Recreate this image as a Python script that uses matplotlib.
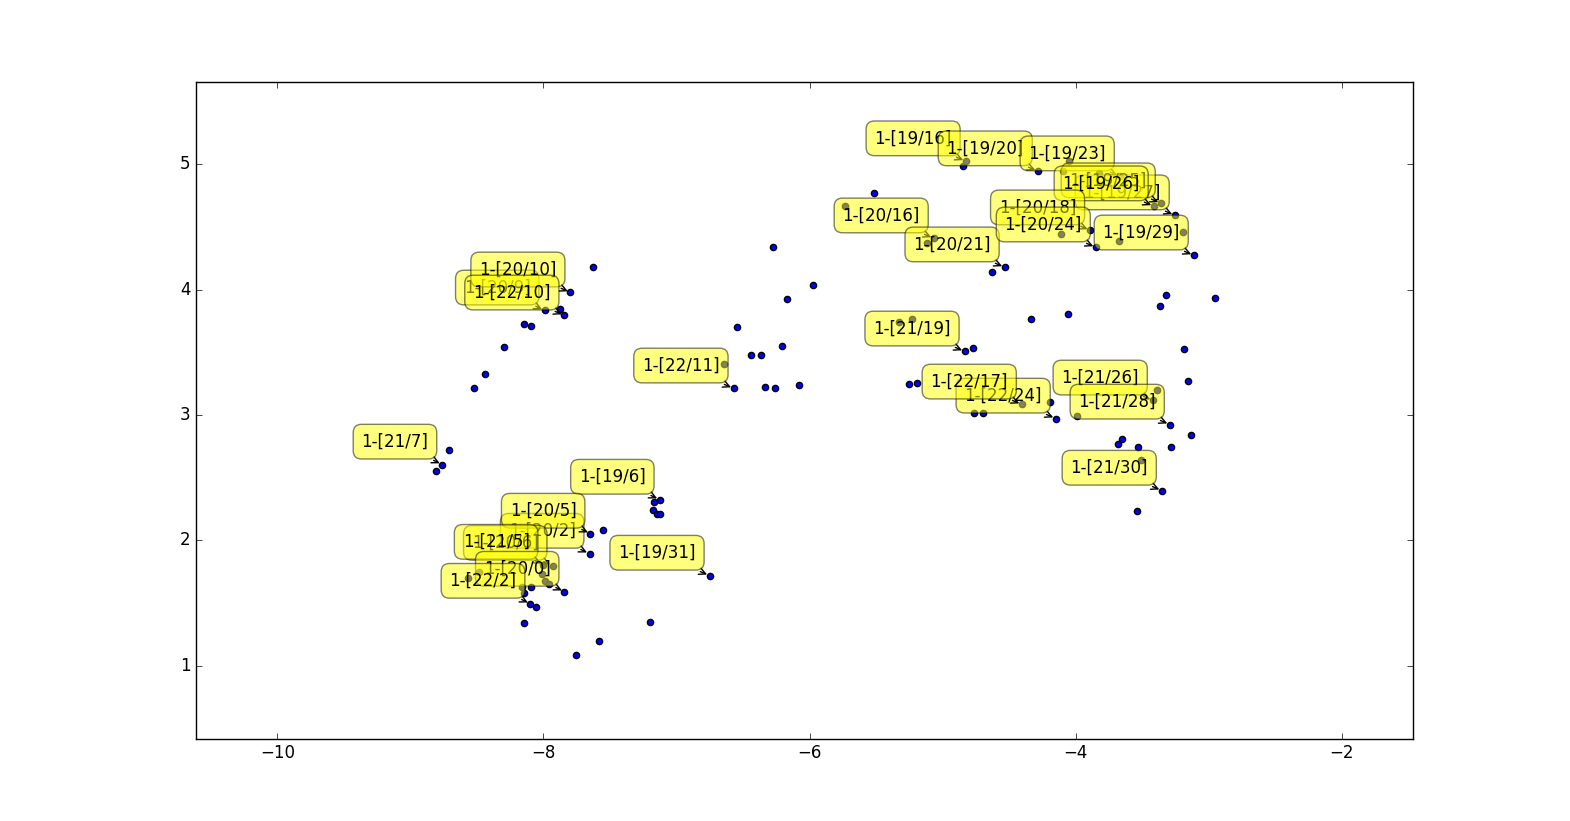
import matplotlib
matplotlib.use('Agg')
import matplotlib.pyplot as plt

plt.style.use('classic')

# points that have no label
point_x = [-7.624, -7.872, -8.143, -8.090, -8.293, -8.436, -8.519, -8.707, -8.805,
           -7.173, -7.180, -7.150, -7.128, -7.556, -8.090, -8.143, -8.053, -8.143,
           -7.203, -7.586, -7.759, -8.008, -7.985, -7.962, -8.481, -8.564,
           -8.158, -6.647, -6.549, -6.444, -6.368, -6.338, -6.263, -6.211, -6.083,
           -6.173, -5.977, -6.278, -5.519, -4.850, -4.053, -4.098, -3.827, -4.632,
           -5.737, -5.120, -4.113, -3.677, -3.195, -3.323, -2.955, -3.368, -4.338,
           -4.060, -3.188, -3.158, -4.774, -5.331, -5.233, -5.256, -5.195, -4.196,
           -4.767, -4.699, -3.391, -3.992, -3.135, -3.286, -3.534, -3.654, -3.684,
           -3.511, -3.541]
point_y = [4.178, 3.842, 3.723, 3.707, 3.539, 3.331, 3.212, 2.717, 2.557,
           2.309, 2.246, 2.214, 2.214, 2.086, 1.631, 1.583, 1.471, 1.343,
           1.351, 1.200, 1.088, 1.735, 1.679, 1.655, 1.750, 1.703,
           1.631, 3.403, 3.699, 3.475, 3.475, 3.220, 3.212, 3.547, 3.236,
           3.922, 4.034, 4.337, 4.768, 4.984, 5.024, 4.944, 4.928, 4.138,
           4.665, 4.369, 4.441, 4.385, 4.457, 3.954, 3.930, 3.866, 3.762,
           3.802, 3.523, 3.275, 3.531, 3.739, 3.763, 3.244, 3.259, 3.100,
           3.020, 3.020, 3.196, 2.996, 2.844, 2.741, 2.741, 2.812, 2.772,
           2.645, 2.238]

# labelled points, in drawing order
label_names = ['1-[19/6]', '1-[19/31]', '1-[21/7]', '1-[20/9]', '1-[20/10]', '1-[22/10]',
               '1-[22/11]', '1-[20/2]', '1-[20/5]', '1-[20/6]', '1-[21/5]', '1-[20/0]',
               '1-[22/2]', '1-[19/16]', '1-[19/20]', '1-[19/23]', '1-[19/27]', '1-[19/25]',
               '1-[19/26]', '1-[20/16]', '1-[20/21]', '1-[20/18]', '1-[20/24]', '1-[19/29]',
               '1-[21/19]', '1-[22/24]', '1-[22/17]', '1-[21/26]', '1-[21/28]', '1-[21/30]']
label_x = [-7.127, -6.751, -8.760, -7.992, -7.797, -7.842,
           -6.571, -7.654, -7.647, -7.932, -8.000, -7.842,
           -8.098, -4.827, -4.285, -3.669, -3.256, -3.361,
           -3.414, -5.067, -4.534, -3.892, -3.849, -3.113,
           -4.835, -4.150, -4.405, -3.421, -3.293, -3.353]
label_y = [2.325, 1.719, 2.605, 3.834, 3.978, 3.794,
           3.212, 1.894, 2.054, 1.798, 1.806, 1.591,
           1.495, 5.024, 4.944, 4.904, 4.593, 4.689,
           4.665, 4.409, 4.178, 4.473, 4.337, 4.273,
           3.507, 2.972, 3.084, 3.116, 2.924, 2.397]

fig = plt.figure(figsize=(15.7, 8.21), dpi=100)
ax = fig.add_subplot(111)
ax.scatter(point_x + label_x, point_y + label_y)

for name, x, y in zip(label_names, label_x, label_y):
    ax.annotate(name, xy=(x, y), xytext=(-10, 10),
                textcoords='offset points', ha='right', va='bottom',
                bbox=dict(boxstyle='round,pad=0.5', fc='yellow', alpha=0.5),
                arrowprops=dict(arrowstyle='->', connectionstyle='arc3,rad=0'))

ax.set_xlim(-10.609, -1.466)
ax.set_ylim(0.417, 5.655)
ax.set_xticks([-10, -8, -6, -4, -2])
ax.set_yticks([1, 2, 3, 4, 5])

fig.savefig('out.png', dpi=100)
